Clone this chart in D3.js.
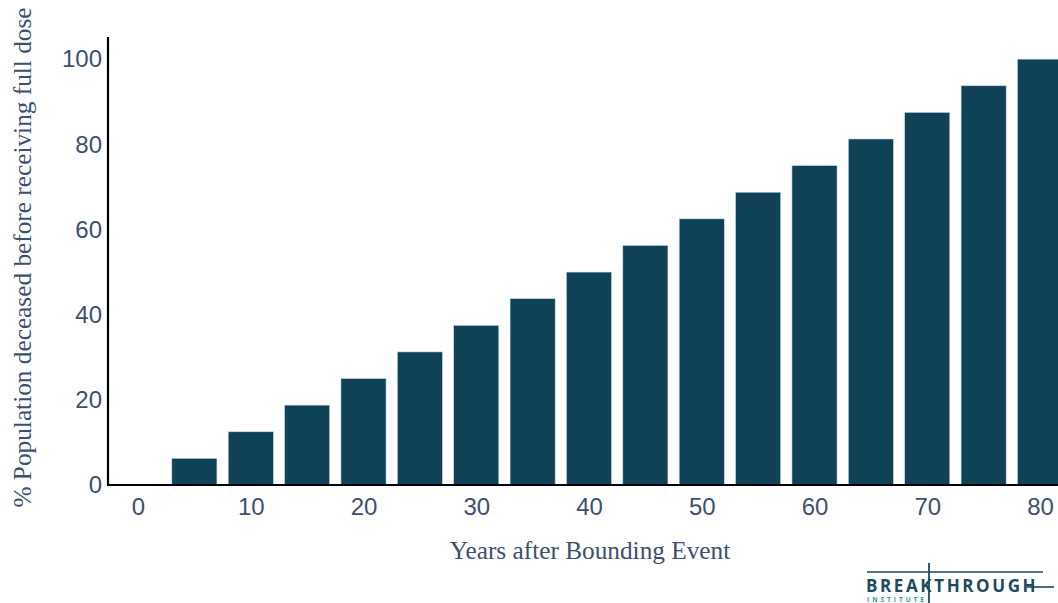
<!DOCTYPE html>
<html>
<head>
<meta charset="utf-8">
<script src="https://cdn.jsdelivr.net/npm/d3@7"></script>
<style>
  html, body { margin: 0; padding: 0; background: #ffffff; }
  svg { display: block; }
</style>
</head>
<body>
<svg id="chart" width="1058" height="603"></svg>
<script>
// Years after the bounding event (bar positions)
const years = [5, 10, 15, 20, 25, 30, 35, 40, 45, 50, 55, 60, 65, 70, 75, 80];
// Share of population deceased before receiving a full dose (%)
const deceasedPct = [6.25, 12.5, 18.75, 25, 31.25, 37.5, 43.75, 50, 56.25, 62.5, 68.75, 75, 81.25, 87.5, 93.75, 100];
const xTicks = [0, 10, 20, 30, 40, 50, 60, 70, 80];
const yTicks = [0, 20, 40, 60, 80, 100];

const W = 1058, H = 603;
const svg = d3.select("#chart");

const axisLeft = 108, plotTop = 37, plotBottom = 485;
const x = d3.scaleLinear().domain([0, 80]).range([138, 1040]);
const y = d3.scaleLinear().domain([0, 105.2]).range([plotBottom, plotTop]);
const barW = (x(5) - x(0)) * 0.8;

const textColor = "#3e5070";
const barColor = "#0f4257";
const tickFont = "'Liberation Sans', Arial, sans-serif";
const titleFont = "'Liberation Serif', 'Times New Roman', serif";

svg.append("defs").append("clipPath").attr("id", "plotclip")
  .append("rect").attr("x", axisLeft).attr("y", 0).attr("width", W - axisLeft).attr("height", plotBottom);

// Bars
svg.append("g").attr("clip-path", "url(#plotclip)")
  .selectAll("rect").data(years).join("rect")
  .attr("x", (d) => x(d) - barW / 2)
  .attr("y", (d, i) => y(deceasedPct[i]))
  .attr("width", barW)
  .attr("height", (d, i) => y(0) - y(deceasedPct[i]))
  .attr("fill", barColor)
  .attr("stroke", "#c9d6e0")
  .attr("stroke-width", 0.6);

// Y axis
const yAxis = svg.append("g")
  .attr("transform", `translate(${axisLeft},0)`)
  .call(d3.axisLeft(y).tickValues(yTicks).tickSize(0).tickPadding(6));
yAxis.select(".domain").remove();
yAxis.selectAll("text")
  .attr("font-family", tickFont)
  .attr("font-size", 24)
  .attr("fill", textColor);

// X axis
const xAxis = svg.append("g")
  .attr("transform", `translate(0,${plotBottom})`)
  .call(d3.axisBottom(x).tickValues(xTicks).tickSize(0).tickPadding(13));
xAxis.select(".domain").remove();
xAxis.selectAll("text")
  .attr("font-family", tickFont)
  .attr("font-size", 24)
  .attr("fill", textColor);

// Axis lines
svg.append("line")
  .attr("x1", axisLeft).attr("x2", axisLeft)
  .attr("y1", plotTop).attr("y2", plotBottom + 1)
  .attr("stroke", "#000").attr("stroke-width", 2.2);
svg.append("line")
  .attr("x1", axisLeft - 1).attr("x2", W)
  .attr("y1", plotBottom).attr("y2", plotBottom)
  .attr("stroke", "#000").attr("stroke-width", 2.2);

// Axis titles
svg.append("text")
  .attr("x", 590).attr("y", 559)
  .attr("text-anchor", "middle")
  .attr("font-family", titleFont)
  .attr("font-size", 25.3)
  .attr("fill", textColor)
  .text("Years after Bounding Event");

svg.append("text")
  .attr("transform", "translate(31,257.5) rotate(-90)")
  .attr("text-anchor", "middle")
  .attr("font-family", titleFont)
  .attr("font-size", 25.3)
  .attr("fill", textColor)
  .text("% Population deceased before receiving full dose");

// Logo mark
const logo = svg.append("g");
const logoColor = "#1d4a5c";
logo.append("line").attr("x1", 867).attr("x2", 1043).attr("y1", 572).attr("y2", 572)
  .attr("stroke", logoColor).attr("stroke-width", 1.6);
logo.append("line").attr("x1", 929).attr("x2", 929).attr("y1", 563).attr("y2", 603)
  .attr("stroke", logoColor).attr("stroke-width", 1.8);
logo.append("text")
  .attr("x", 866).attr("y", 592)
  .attr("font-family", "'Open Sans', 'DejaVu Sans', sans-serif")
  .attr("font-weight", 700)
  .attr("font-size", 17)
  .attr("letter-spacing", 2.6)
  .attr("fill", logoColor)
  .text("BREAKTHROUGH");
logo.append("line").attr("x1", 1027).attr("x2", 1054).attr("y1", 587).attr("y2", 587)
  .attr("stroke", logoColor).attr("stroke-width", 1.6);
logo.append("text")
  .attr("x", 867).attr("y", 602)
  .attr("font-family", "'Open Sans', 'DejaVu Sans', sans-serif")
  .attr("font-weight", 700)
  .attr("font-size", 6.5)
  .attr("letter-spacing", 3)
  .attr("fill", "#2a9d9d")
  .text("INSTITUTE");
</script>
</body>
</html>
